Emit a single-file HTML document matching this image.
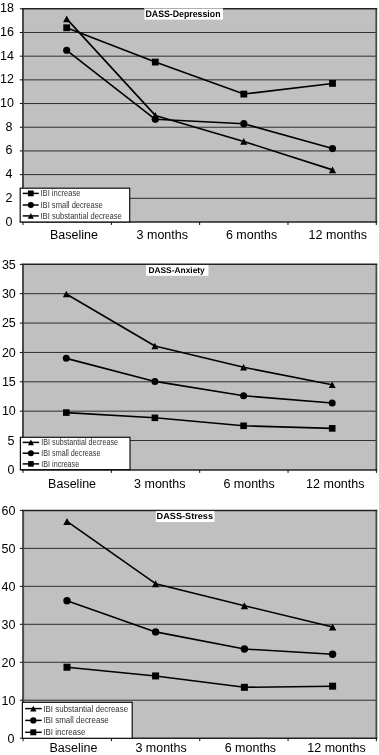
<!DOCTYPE html>
<html><head><meta charset="utf-8"><style>
html,body{margin:0;padding:0;background:#fff;}
body{width:379px;height:755px;overflow:hidden;}
svg{display:block;font-family:"Liberation Sans", sans-serif;will-change:transform;}
</style></head><body>
<svg width="379" height="755" viewBox="0 0 379 755">
<rect x="23.0" y="8.8" width="353.30" height="213.20" fill="#c0c0c0"/>
<line x1="23.0" y1="198.31" x2="376.3" y2="198.31" stroke="#2e2e2e" stroke-width="1"/>
<line x1="23.0" y1="174.62" x2="376.3" y2="174.62" stroke="#2e2e2e" stroke-width="1"/>
<line x1="23.0" y1="150.93" x2="376.3" y2="150.93" stroke="#2e2e2e" stroke-width="1"/>
<line x1="23.0" y1="127.24" x2="376.3" y2="127.24" stroke="#2e2e2e" stroke-width="1"/>
<line x1="23.0" y1="103.56" x2="376.3" y2="103.56" stroke="#2e2e2e" stroke-width="1"/>
<line x1="23.0" y1="79.87" x2="376.3" y2="79.87" stroke="#2e2e2e" stroke-width="1"/>
<line x1="23.0" y1="56.18" x2="376.3" y2="56.18" stroke="#2e2e2e" stroke-width="1"/>
<line x1="23.0" y1="32.49" x2="376.3" y2="32.49" stroke="#2e2e2e" stroke-width="1"/>
<line x1="23.00" y1="8.8" x2="23.00" y2="222.0" stroke="#4a4a4a" stroke-width="2"/>
<line x1="376.30" y1="8.8" x2="376.30" y2="222.0" stroke="#4a4a4a" stroke-width="1.8"/>
<line x1="22.00" y1="8.8" x2="377.20" y2="8.8" stroke="#222" stroke-width="1.5"/>
<line x1="22.00" y1="222.0" x2="377.20" y2="222.0" stroke="#222" stroke-width="1.5"/>
<line x1="19.80" y1="222.00" x2="23.0" y2="222.00" stroke="#111" stroke-width="1"/>
<text x="12.40" y="225.50" text-anchor="end" font-size="12.5">0</text>
<line x1="19.80" y1="198.31" x2="23.0" y2="198.31" stroke="#111" stroke-width="1"/>
<text x="12.40" y="201.81" text-anchor="end" font-size="12.5">2</text>
<line x1="19.80" y1="174.62" x2="23.0" y2="174.62" stroke="#111" stroke-width="1"/>
<text x="12.40" y="178.12" text-anchor="end" font-size="12.5">4</text>
<line x1="19.80" y1="150.93" x2="23.0" y2="150.93" stroke="#111" stroke-width="1"/>
<text x="12.40" y="154.43" text-anchor="end" font-size="12.5">6</text>
<line x1="19.80" y1="127.24" x2="23.0" y2="127.24" stroke="#111" stroke-width="1"/>
<text x="12.40" y="130.74" text-anchor="end" font-size="12.5">8</text>
<line x1="19.80" y1="103.56" x2="23.0" y2="103.56" stroke="#111" stroke-width="1"/>
<text x="14.00" y="107.06" text-anchor="end" font-size="12.5">10</text>
<line x1="19.80" y1="79.87" x2="23.0" y2="79.87" stroke="#111" stroke-width="1"/>
<text x="14.00" y="83.37" text-anchor="end" font-size="12.5">12</text>
<line x1="19.80" y1="56.18" x2="23.0" y2="56.18" stroke="#111" stroke-width="1"/>
<text x="14.00" y="59.68" text-anchor="end" font-size="12.5">14</text>
<line x1="19.80" y1="32.49" x2="23.0" y2="32.49" stroke="#111" stroke-width="1"/>
<text x="14.00" y="35.99" text-anchor="end" font-size="12.5">16</text>
<line x1="19.80" y1="8.80" x2="23.0" y2="8.80" stroke="#111" stroke-width="1"/>
<text x="14.00" y="12.30" text-anchor="end" font-size="12.5">18</text>
<line x1="23.00" y1="222.0" x2="23.00" y2="225.00" stroke="#111" stroke-width="1"/>
<line x1="111.33" y1="222.0" x2="111.33" y2="225.00" stroke="#111" stroke-width="1"/>
<line x1="199.65" y1="222.0" x2="199.65" y2="225.00" stroke="#111" stroke-width="1"/>
<line x1="287.98" y1="222.0" x2="287.98" y2="225.00" stroke="#111" stroke-width="1"/>
<line x1="376.30" y1="222.0" x2="376.30" y2="225.00" stroke="#111" stroke-width="1"/>
<text x="74" y="239.4" text-anchor="middle" font-size="12.5">Baseline</text>
<text x="162.3" y="239.4" text-anchor="middle" font-size="12.5">3 months</text>
<text x="251.6" y="239.4" text-anchor="middle" font-size="12.5">6 months</text>
<text x="337.8" y="239.4" text-anchor="middle" font-size="12.5">12 months</text>
<polyline points="66.70,27.75 155.30,62.10 243.80,94.08 332.50,83.42" fill="none" stroke="#000" stroke-width="1.6" stroke-linejoin="round"/>
<rect x="63.30" y="24.35" width="6.80" height="6.80" fill="#000"/>
<rect x="151.90" y="58.70" width="6.80" height="6.80" fill="#000"/>
<rect x="240.40" y="90.68" width="6.80" height="6.80" fill="#000"/>
<rect x="329.10" y="80.02" width="6.80" height="6.80" fill="#000"/>
<polyline points="66.70,50.26 155.30,119.31 243.80,123.69 332.50,148.56" fill="none" stroke="#000" stroke-width="1.6" stroke-linejoin="round"/>
<circle cx="66.70" cy="50.26" r="3.60" fill="#000"/>
<circle cx="155.30" cy="119.31" r="3.60" fill="#000"/>
<circle cx="243.80" cy="123.69" r="3.60" fill="#000"/>
<circle cx="332.50" cy="148.56" r="3.60" fill="#000"/>
<polyline points="66.70,18.87 155.30,115.40 243.80,141.46 332.50,169.88" fill="none" stroke="#000" stroke-width="1.6" stroke-linejoin="round"/>
<polygon points="66.70,15.47 70.31,22.27 63.10,22.27" fill="#000"/>
<polygon points="155.30,112.00 158.91,118.80 151.70,118.80" fill="#000"/>
<polygon points="243.80,138.06 247.41,144.86 240.20,144.86" fill="#000"/>
<polygon points="332.50,166.49 336.11,173.28 328.89,173.28" fill="#000"/>
<rect x="144.4" y="8.05" width="78.60" height="11.55" fill="#fff"/>
<line x1="144.4" y1="8.50" x2="223" y2="8.50" stroke="#a8a8a8" stroke-width="0.9"/>
<text x="145.5" y="16.7" font-size="9.4" font-weight="bold" text-rendering="geometricPrecision" textLength="75.0" lengthAdjust="spacingAndGlyphs">DASS-Depression</text>
<rect x="20.2" y="188.2" width="109.50" height="33.80" fill="#fff" stroke="#111" stroke-width="1.2"/>
<line x1="22.7" y1="193.4" x2="38.7" y2="193.4" stroke="#000" stroke-width="1.5"/>
<rect x="27.91" y="190.51" width="5.78" height="5.78" fill="#000"/>
<text x="40.5" y="196.30" font-size="8.2" fill="#333" textLength="40.00" lengthAdjust="spacingAndGlyphs">IBI increase</text>
<line x1="22.7" y1="205.0" x2="38.7" y2="205.0" stroke="#000" stroke-width="1.5"/>
<circle cx="30.80" cy="205.00" r="3.06" fill="#000"/>
<text x="40.5" y="207.90" font-size="8.2" fill="#333" textLength="62.30" lengthAdjust="spacingAndGlyphs">IBI small decrease</text>
<line x1="22.7" y1="215.9" x2="38.7" y2="215.9" stroke="#000" stroke-width="1.5"/>
<polygon points="30.80,213.01 33.86,218.79 27.74,218.79" fill="#000"/>
<text x="40.5" y="218.80" font-size="8.2" fill="#333" textLength="81.30" lengthAdjust="spacingAndGlyphs">IBI substantial decrease</text>
<rect x="23.0" y="264.35" width="353.40" height="205.55" fill="#c0c0c0"/>
<line x1="23.0" y1="440.54" x2="376.4" y2="440.54" stroke="#2e2e2e" stroke-width="1"/>
<line x1="23.0" y1="411.17" x2="376.4" y2="411.17" stroke="#2e2e2e" stroke-width="1"/>
<line x1="23.0" y1="381.81" x2="376.4" y2="381.81" stroke="#2e2e2e" stroke-width="1"/>
<line x1="23.0" y1="352.44" x2="376.4" y2="352.44" stroke="#2e2e2e" stroke-width="1"/>
<line x1="23.0" y1="323.08" x2="376.4" y2="323.08" stroke="#2e2e2e" stroke-width="1"/>
<line x1="23.0" y1="293.71" x2="376.4" y2="293.71" stroke="#2e2e2e" stroke-width="1"/>
<line x1="23.00" y1="264.35" x2="23.00" y2="469.9" stroke="#4a4a4a" stroke-width="2"/>
<line x1="376.40" y1="264.35" x2="376.40" y2="469.9" stroke="#4a4a4a" stroke-width="1.8"/>
<line x1="22.00" y1="264.35" x2="377.30" y2="264.35" stroke="#222" stroke-width="1.5"/>
<line x1="22.00" y1="469.9" x2="377.30" y2="469.9" stroke="#222" stroke-width="1.5"/>
<line x1="19.80" y1="469.90" x2="23.0" y2="469.90" stroke="#111" stroke-width="1"/>
<text x="14.40" y="474.20" text-anchor="end" font-size="12.5">0</text>
<line x1="19.80" y1="440.54" x2="23.0" y2="440.54" stroke="#111" stroke-width="1"/>
<text x="14.40" y="444.84" text-anchor="end" font-size="12.5">5</text>
<line x1="19.80" y1="411.17" x2="23.0" y2="411.17" stroke="#111" stroke-width="1"/>
<text x="15.80" y="415.47" text-anchor="end" font-size="12.5">10</text>
<line x1="19.80" y1="381.81" x2="23.0" y2="381.81" stroke="#111" stroke-width="1"/>
<text x="15.80" y="386.11" text-anchor="end" font-size="12.5">15</text>
<line x1="19.80" y1="352.44" x2="23.0" y2="352.44" stroke="#111" stroke-width="1"/>
<text x="15.80" y="356.74" text-anchor="end" font-size="12.5">20</text>
<line x1="19.80" y1="323.08" x2="23.0" y2="323.08" stroke="#111" stroke-width="1"/>
<text x="15.80" y="327.38" text-anchor="end" font-size="12.5">25</text>
<line x1="19.80" y1="293.71" x2="23.0" y2="293.71" stroke="#111" stroke-width="1"/>
<text x="15.80" y="298.01" text-anchor="end" font-size="12.5">30</text>
<line x1="19.80" y1="264.35" x2="23.0" y2="264.35" stroke="#111" stroke-width="1"/>
<text x="15.80" y="268.65" text-anchor="end" font-size="12.5">35</text>
<line x1="23.00" y1="469.9" x2="23.00" y2="472.90" stroke="#111" stroke-width="1"/>
<line x1="111.35" y1="469.9" x2="111.35" y2="472.90" stroke="#111" stroke-width="1"/>
<line x1="199.70" y1="469.9" x2="199.70" y2="472.90" stroke="#111" stroke-width="1"/>
<line x1="288.05" y1="469.9" x2="288.05" y2="472.90" stroke="#111" stroke-width="1"/>
<line x1="376.40" y1="469.9" x2="376.40" y2="472.90" stroke="#111" stroke-width="1"/>
<text x="72.1" y="487.7" text-anchor="middle" font-size="12.5">Baseline</text>
<text x="159.8" y="487.7" text-anchor="middle" font-size="12.5">3 months</text>
<text x="249.1" y="487.7" text-anchor="middle" font-size="12.5">6 months</text>
<text x="335.3" y="487.7" text-anchor="middle" font-size="12.5">12 months</text>
<polyline points="66.30,412.58 154.90,417.81 243.60,425.79 332.20,428.38" fill="none" stroke="#000" stroke-width="1.6" stroke-linejoin="round"/>
<rect x="63.00" y="409.28" width="6.60" height="6.60" fill="#000"/>
<rect x="151.60" y="414.51" width="6.60" height="6.60" fill="#000"/>
<rect x="240.30" y="422.49" width="6.60" height="6.60" fill="#000"/>
<rect x="328.90" y="425.08" width="6.60" height="6.60" fill="#000"/>
<polyline points="66.30,358.37 154.90,381.40 243.60,395.78 332.20,403.01" fill="none" stroke="#000" stroke-width="1.6" stroke-linejoin="round"/>
<circle cx="66.30" cy="358.37" r="3.50" fill="#000"/>
<circle cx="154.90" cy="381.40" r="3.50" fill="#000"/>
<circle cx="243.60" cy="395.78" r="3.50" fill="#000"/>
<circle cx="332.20" cy="403.01" r="3.50" fill="#000"/>
<polyline points="66.30,294.01 154.90,345.98 243.60,367.30 332.20,384.80" fill="none" stroke="#000" stroke-width="1.6" stroke-linejoin="round"/>
<polygon points="66.30,290.71 69.80,297.31 62.80,297.31" fill="#000"/>
<polygon points="154.90,342.68 158.40,349.28 151.40,349.28" fill="#000"/>
<polygon points="243.60,364.00 247.10,370.60 240.10,370.60" fill="#000"/>
<polygon points="332.20,381.50 335.70,388.10 328.70,388.10" fill="#000"/>
<rect x="146.1" y="265.10" width="62.40" height="10.70" fill="#fff"/>
<text x="148.4" y="272.9" font-size="8.3" font-weight="bold" text-rendering="geometricPrecision" textLength="56.4" lengthAdjust="spacingAndGlyphs">DASS-Anxiety</text>
<rect x="20.4" y="437.3" width="109.60" height="32.30" fill="#fff" stroke="#111" stroke-width="1.2"/>
<line x1="22.6" y1="442.4" x2="39.1" y2="442.4" stroke="#000" stroke-width="1.5"/>
<polygon points="30.90,439.59 33.88,445.20 27.92,445.20" fill="#000"/>
<text x="41.3" y="445.30" font-size="8.2" fill="#333" textLength="76.80" lengthAdjust="spacingAndGlyphs">IBI substantial decrease</text>
<line x1="22.6" y1="453.2" x2="39.1" y2="453.2" stroke="#000" stroke-width="1.5"/>
<circle cx="30.90" cy="453.20" r="2.98" fill="#000"/>
<text x="41.3" y="456.10" font-size="8.2" fill="#333" textLength="59.10" lengthAdjust="spacingAndGlyphs">IBI small decrease</text>
<line x1="22.6" y1="463.9" x2="39.1" y2="463.9" stroke="#000" stroke-width="1.5"/>
<rect x="28.09" y="461.09" width="5.61" height="5.61" fill="#000"/>
<text x="41.3" y="466.80" font-size="8.2" fill="#333" textLength="37.90" lengthAdjust="spacingAndGlyphs">IBI increase</text>
<rect x="23.1" y="510.4" width="353.30" height="227.80" fill="#c0c0c0"/>
<line x1="23.1" y1="700.23" x2="376.4" y2="700.23" stroke="#2e2e2e" stroke-width="1"/>
<line x1="23.1" y1="662.27" x2="376.4" y2="662.27" stroke="#2e2e2e" stroke-width="1"/>
<line x1="23.1" y1="624.30" x2="376.4" y2="624.30" stroke="#2e2e2e" stroke-width="1"/>
<line x1="23.1" y1="586.33" x2="376.4" y2="586.33" stroke="#2e2e2e" stroke-width="1"/>
<line x1="23.1" y1="548.37" x2="376.4" y2="548.37" stroke="#2e2e2e" stroke-width="1"/>
<line x1="23.10" y1="510.4" x2="23.10" y2="738.2" stroke="#4a4a4a" stroke-width="2"/>
<line x1="376.40" y1="510.4" x2="376.40" y2="738.2" stroke="#4a4a4a" stroke-width="1.8"/>
<line x1="22.10" y1="510.4" x2="377.30" y2="510.4" stroke="#222" stroke-width="1.5"/>
<line x1="22.10" y1="738.2" x2="377.30" y2="738.2" stroke="#222" stroke-width="1.5"/>
<line x1="19.90" y1="738.20" x2="23.1" y2="738.20" stroke="#111" stroke-width="1"/>
<text x="14.50" y="743.10" text-anchor="end" font-size="12.5">0</text>
<line x1="19.90" y1="700.23" x2="23.1" y2="700.23" stroke="#111" stroke-width="1"/>
<text x="15.50" y="705.13" text-anchor="end" font-size="12.5">10</text>
<line x1="19.90" y1="662.27" x2="23.1" y2="662.27" stroke="#111" stroke-width="1"/>
<text x="15.50" y="667.17" text-anchor="end" font-size="12.5">20</text>
<line x1="19.90" y1="624.30" x2="23.1" y2="624.30" stroke="#111" stroke-width="1"/>
<text x="15.50" y="629.20" text-anchor="end" font-size="12.5">30</text>
<line x1="19.90" y1="586.33" x2="23.1" y2="586.33" stroke="#111" stroke-width="1"/>
<text x="15.50" y="591.23" text-anchor="end" font-size="12.5">40</text>
<line x1="19.90" y1="548.37" x2="23.1" y2="548.37" stroke="#111" stroke-width="1"/>
<text x="15.50" y="553.27" text-anchor="end" font-size="12.5">50</text>
<line x1="19.90" y1="510.40" x2="23.1" y2="510.40" stroke="#111" stroke-width="1"/>
<text x="15.50" y="515.30" text-anchor="end" font-size="12.5">60</text>
<line x1="23.10" y1="738.2" x2="23.10" y2="741.20" stroke="#111" stroke-width="1"/>
<line x1="111.42" y1="738.2" x2="111.42" y2="741.20" stroke="#111" stroke-width="1"/>
<line x1="199.75" y1="738.2" x2="199.75" y2="741.20" stroke="#111" stroke-width="1"/>
<line x1="288.07" y1="738.2" x2="288.07" y2="741.20" stroke="#111" stroke-width="1"/>
<line x1="376.40" y1="738.2" x2="376.40" y2="741.20" stroke="#111" stroke-width="1"/>
<text x="73.4" y="752.0" text-anchor="middle" font-size="12.5">Baseline</text>
<text x="161.1" y="752.0" text-anchor="middle" font-size="12.5">3 months</text>
<text x="250.4" y="752.0" text-anchor="middle" font-size="12.5">6 months</text>
<text x="336.5" y="752.0" text-anchor="middle" font-size="12.5">12 months</text>
<polyline points="67.00,667.20 155.60,675.93 244.40,687.32 332.60,686.19" fill="none" stroke="#000" stroke-width="1.6" stroke-linejoin="round"/>
<rect x="63.50" y="663.70" width="7.00" height="7.00" fill="#000"/>
<rect x="152.10" y="672.44" width="7.00" height="7.00" fill="#000"/>
<rect x="240.90" y="683.83" width="7.00" height="7.00" fill="#000"/>
<rect x="329.10" y="682.69" width="7.00" height="7.00" fill="#000"/>
<polyline points="67.00,600.76 155.60,631.89 244.40,648.98 332.60,654.29" fill="none" stroke="#000" stroke-width="1.6" stroke-linejoin="round"/>
<circle cx="67.00" cy="600.76" r="3.71" fill="#000"/>
<circle cx="155.60" cy="631.89" r="3.71" fill="#000"/>
<circle cx="244.40" cy="648.98" r="3.71" fill="#000"/>
<circle cx="332.60" cy="654.29" r="3.71" fill="#000"/>
<polyline points="67.00,521.41 155.60,583.68 244.40,605.70 332.60,626.96" fill="none" stroke="#000" stroke-width="1.6" stroke-linejoin="round"/>
<polygon points="67.00,517.91 70.71,524.91 63.29,524.91" fill="#000"/>
<polygon points="155.60,580.18 159.31,587.17 151.89,587.17" fill="#000"/>
<polygon points="244.40,602.20 248.11,609.19 240.69,609.19" fill="#000"/>
<polygon points="332.60,623.46 336.31,630.46 328.89,630.46" fill="#000"/>
<rect x="155.8" y="511.15" width="58.70" height="10.85" fill="#fff"/>
<text x="156.6" y="519.1" font-size="8.9" font-weight="bold" text-rendering="geometricPrecision" textLength="56.4" lengthAdjust="spacingAndGlyphs">DASS-Stress</text>
<rect x="22.4" y="702.3" width="109.80" height="36.00" fill="#fff" stroke="#111" stroke-width="1.2"/>
<line x1="25.2" y1="708.6" x2="41.7" y2="708.6" stroke="#000" stroke-width="1.5"/>
<polygon points="33.30,705.63 36.45,711.57 30.15,711.57" fill="#000"/>
<text x="43.3" y="711.50" font-size="8.2" fill="#333" textLength="84.90" lengthAdjust="spacingAndGlyphs">IBI substantial decrease</text>
<line x1="25.2" y1="720.4" x2="41.7" y2="720.4" stroke="#000" stroke-width="1.5"/>
<circle cx="33.30" cy="720.40" r="3.15" fill="#000"/>
<text x="43.3" y="723.30" font-size="8.2" fill="#333" textLength="65.50" lengthAdjust="spacingAndGlyphs">IBI small decrease</text>
<line x1="25.2" y1="732.3" x2="41.7" y2="732.3" stroke="#000" stroke-width="1.5"/>
<rect x="30.33" y="729.33" width="5.95" height="5.95" fill="#000"/>
<text x="43.3" y="735.20" font-size="8.2" fill="#333" textLength="42.20" lengthAdjust="spacingAndGlyphs">IBI increase</text>
</svg>
</body></html>
